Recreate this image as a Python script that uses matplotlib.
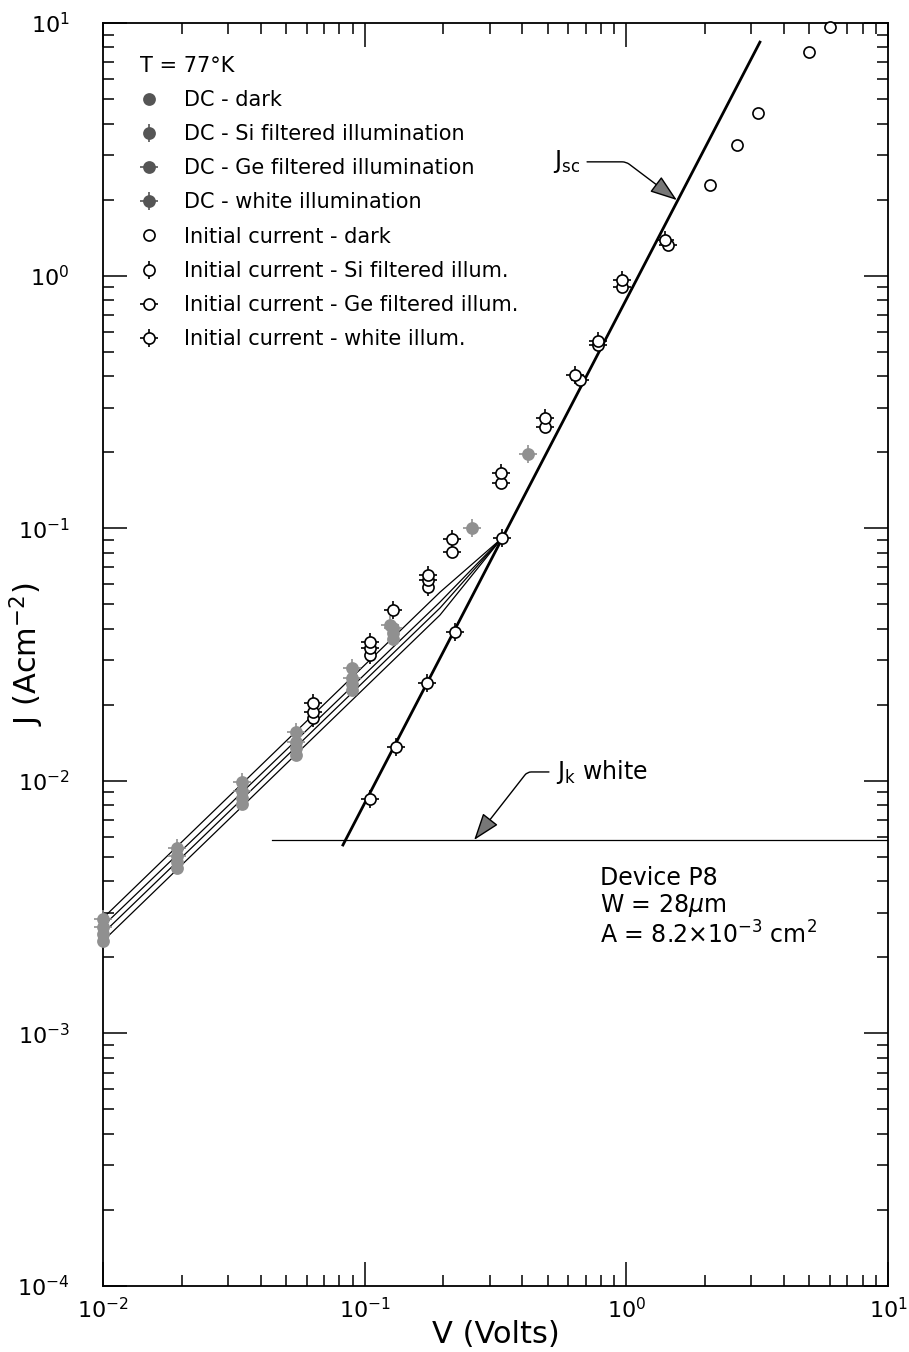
import matplotlib
matplotlib.use('Agg')
import matplotlib.pyplot as plt
from matplotlib.lines import Line2D
from matplotlib.legend_handler import HandlerTuple

plt.rcParams['font.family'] = ['DejaVu Sans']
plt.rcParams['mathtext.fontset'] = 'dejavusans'

# DC currents (V in volts, J in A/cm^2)
dc_v = [0.0100, 0.0192, 0.0340, 0.0546, 0.0894, 0.128]
dc_dark_j = [0.00233, 0.00450, 0.00810, 0.0127, 0.0229, 0.0364]
dc_si_j = [0.00248, 0.00476, 0.00858, 0.0135, 0.0242, 0.0383]
dc_ge_j = [0.00264, 0.00505, 0.00912, 0.0143, 0.0256, 0.0402]
dc_white_v = [0.0100, 0.0192, 0.0340, 0.0546, 0.0894, 0.125, 0.257, 0.421]
dc_white_j = [0.00284, 0.00543, 0.00985, 0.0156, 0.0280, 0.0414, 0.100, 0.197]

# initial currents
init_dark_v = [2.08, 2.65, 3.18, 4.99, 6.0]
init_dark_j = [2.29, 3.29, 4.41, 7.67, 9.64]
init_si_v = [0.0634, 0.1047, 0.175]
init_si_j = [0.0177, 0.0315, 0.0585]
init_ge_v = [0.0634, 0.1047, 0.175, 0.216, 0.332, 0.489, 0.665, 0.78, 0.962, 1.44]
init_ge_j = [0.0187, 0.0336, 0.0624, 0.0805, 0.151, 0.252, 0.386, 0.531, 0.90, 1.32]
init_white_v = [0.0634, 0.1047, 0.128, 0.175, 0.216, 0.332, 0.489, 0.637, 0.778, 0.962, 1.405,
                0.1047, 0.132, 0.173, 0.221, 0.335]
init_white_j = [0.0203, 0.0355, 0.0474, 0.0653, 0.0906, 0.166, 0.273, 0.404, 0.551, 0.96, 1.38,
                0.00848, 0.0136, 0.0244, 0.0388, 0.0914]

# drawn lines: four ohmic lines meeting the Jsc line, Jsc line, Jk line
ohmic_v = [0.0100, 0.194, 0.335]
ohmic_j = [[0.00286, 0.0558, 0.0914],
           [0.00266, 0.0510, 0.0914],
           [0.00249, 0.0483, 0.0914],
           [0.00232, 0.0453, 0.0914]]
jsc_v = [0.0826, 3.24]
jsc_j = [0.00557, 8.4]
jk_v = [0.0443, 10.0]
jk_j = [0.00583, 0.00583]

fig = plt.figure(figsize=(9.09, 13.52), dpi=100)
ax = fig.add_axes([0.1133, 0.0488, 0.8636, 0.9342])
ax.set_xscale('log')
ax.set_yscale('log')
ax.set_xlim(1e-2, 1e1)
ax.set_ylim(1e-4, 1e1)

for oj in ohmic_j:
    ax.plot(ohmic_v, oj, color='black', lw=0.9)
ax.plot(jsc_v, jsc_j, color='black', lw=2.0)
ax.plot(jk_v, jk_j, color='black', lw=0.9)

DC_FILL = '#909090'
LEG_FILL = '#555555'


def series(v, j, tick, filled, fill=DC_FILL, draw=True):
    fc = fill if filled else 'white'
    ec = fill if filled else 'black'
    base = Line2D(v, j, ls='none', marker='o', ms=8, mfc=fc, mec=ec, mew=1.2, zorder=4)
    parts = [base]
    if tick is not None:
        top = Line2D(v, j, ls='none', marker=tick, ms=13, mec='black' if not filled else fill,
                     mew=1.2, zorder=3)
        parts = [top, base]
    if draw:
        for p in parts:
            p.set_clip_on(False)
            ax.add_line(p)
    return tuple(parts)


series(dc_v, dc_dark_j, None, True)
series(dc_v, dc_si_j, '|', True)
series(dc_v, dc_ge_j, '_', True)
series(dc_white_v, dc_white_j, '+', True)
series(init_dark_v, init_dark_j, None, False)
series(init_si_v, init_si_j, '|', False)
series(init_ge_v, init_ge_j, '_', False)
series(init_white_v, init_white_j, '+', False)

handles = [
    series([], [], None, True, LEG_FILL, False),
    series([], [], '|', True, LEG_FILL, False),
    series([], [], '_', True, LEG_FILL, False),
    series([], [], '+', True, LEG_FILL, False),
    series([], [], None, False, draw=False),
    series([], [], '|', False, draw=False),
    series([], [], '_', False, draw=False),
    series([], [], '+', False, draw=False),
]
labels = ['DC - dark', 'DC - Si filtered illumination', 'DC - Ge filtered illumination',
          'DC - white illumination', 'Initial current - dark',
          'Initial current - Si filtered illum.', 'Initial current - Ge filtered illum.',
          'Initial current - white illum.']
leg = ax.legend(handles, labels, handler_map={tuple: HandlerTuple(ndivide=1)},
                loc='upper left', bbox_to_anchor=(0.047, 0.974), frameon=False,
                fontsize=15, title='T = 77°K', title_fontsize=15, alignment='left',
                handlelength=0.9, handletextpad=1.2, labelspacing=0.68,
                borderpad=0, borderaxespad=0)

arrow = dict(arrowstyle='-|>,head_length=1.0,head_width=0.35', color='black',
             lw=1.0, fc='#777777', shrinkA=3, shrinkB=0)
ax.annotate('J$_{\\mathregular{sc}}$', xy=(1.56, 1.99), xytext=(0.525, 2.82),
            fontsize=17, va='center', ha='left',
            arrowprops=dict(arrow, connectionstyle='angle,angleA=0,angleB=143,rad=4'))
ax.annotate('J$_{\\mathregular{k}}$ white', xy=(0.262, 0.00583), xytext=(0.538, 0.01084),
            fontsize=17, va='center', ha='left',
            arrowprops=dict(arrow, connectionstyle='angle,angleA=180,angleB=52,rad=4'))
ax.text(0.792, 0.0046, 'Device P8\nW = 28$\\mu$m\nA = 8.2$\\times$10$^{-3}$ cm$^2$',
        fontsize=17, va='top', ha='left', linespacing=1.1)

ax.tick_params(which='both', direction='in', top=True, right=True, width=1.1)
ax.tick_params(which='major', length=17, labelsize=16)
ax.tick_params(which='minor', length=8)
ax.tick_params(axis='y', which='major', pad=24)
ax.tick_params(axis='x', which='major', pad=8)
for s in ax.spines.values():
    s.set_linewidth(1.3)

ax.set_xlabel('V (Volts)', fontsize=22)
ax.set_ylabel('J (Acm$^{-2}$)', fontsize=22)
ax.xaxis.set_label_coords(0.5, -0.027)
ax.yaxis.set_label_coords(-0.072, 0.5)

fig.savefig('out.png', dpi=100)
